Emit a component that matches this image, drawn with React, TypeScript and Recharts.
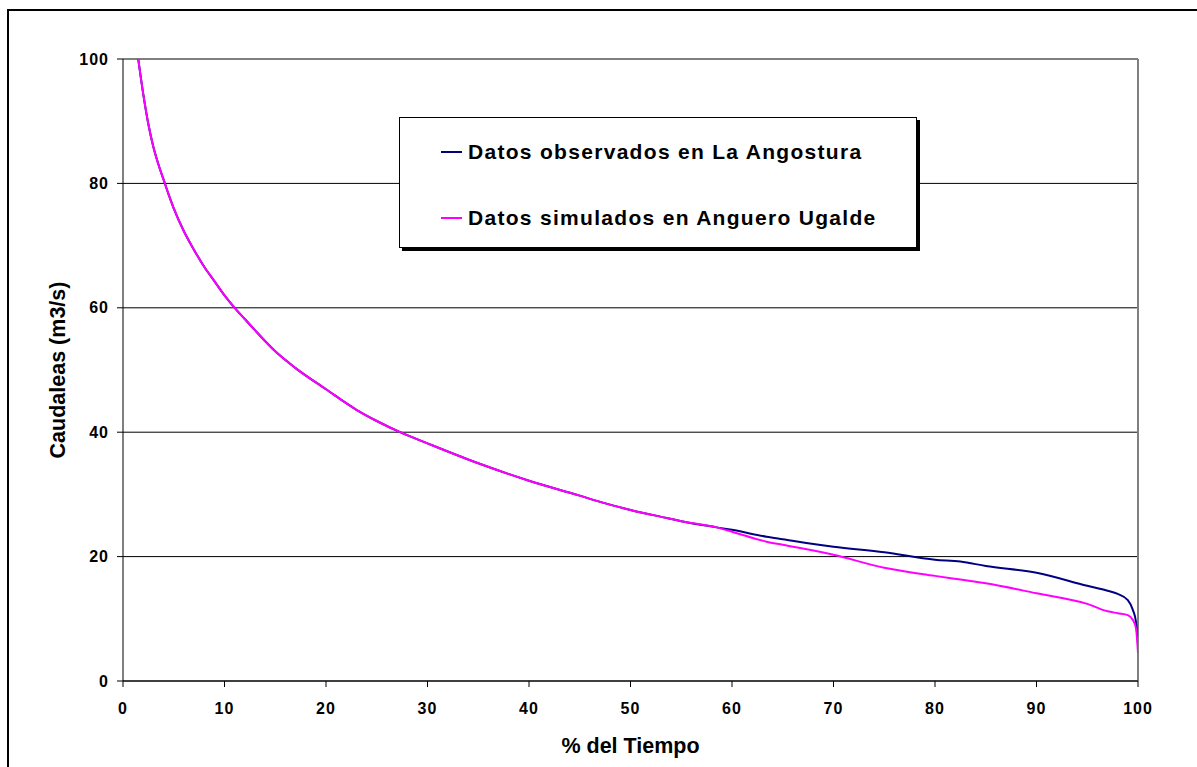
import {
  LineChart,
  Line,
  XAxis,
  YAxis,
  CartesianGrid,
  Legend,
  ReferenceLine,
  Label,
} from "recharts";

// % del tiempo (x)
const pct = [
  1.5, 2, 2.5, 3, 3.5, 4, 4.5, 5, 6, 7, 8, 9, 10, 11, 12, 13, 15, 17, 20, 23,
  25, 27.3, 30, 35, 40, 45, 47, 50, 53.6, 55, 58.5, 60, 63.4, 65, 70, 75, 80,
  82.5, 85, 90, 95, 97, 98, 99, 99.5, 99.8, 100,
];

const observados = [
  100, 94.3, 89.5, 85.8, 83, 80.6, 78.2, 76, 72.3, 69.3, 66.6, 64.3, 62, 60,
  58.2, 56.4, 53, 50.3, 46.9, 43.6, 41.8, 40, 38.2, 35, 32.2, 29.8, 28.8, 27.5,
  26.2, 25.7, 24.7, 24.3, 23.2, 22.8, 21.6, 20.7, 19.5, 19.2, 18.5, 17.4, 15.3,
  14.5, 14.0, 13.0, 11.4, 9.5, 6,
];

const simulados = [
  100, 94.3, 89.5, 85.8, 83, 80.6, 78.2, 76, 72.3, 69.3, 66.6, 64.3, 62, 60,
  58.2, 56.4, 53, 50.3, 46.9, 43.6, 41.8, 40, 38.2, 35, 32.2, 29.8, 28.8, 27.5,
  26.2, 25.7, 24.7, 24.0, 22.4, 21.9, 20.3, 18.2, 16.9, 16.3, 15.7, 14.1, 12.4,
  11.2, 10.9, 10.6, 9.8, 8.5, 4.5,
];

const xTicks = [0, 10, 20, 30, 40, 50, 60, 70, 80, 90, 100];
const yTicks = [0, 20, 40, 60, 80, 100];

const data = pct.map((p, i) => ({
  pct: p,
  observados: observados[i],
  simulados: simulados[i],
}));

const font = "'Liberation Sans', Arial, sans-serif";
const tickStyle = { fill: "#000", fontSize: 16, fontWeight: "bold", letterSpacing: 1, fontFamily: font };

const renderLegend = ({ payload }: any) => (
  <div
    style={{
      width: 516,
      height: 129,
      border: "1px solid #000",
      background: "#fff",
      boxShadow: "3px 3px 0 #000",
      position: "relative",
      fontFamily: font,
      fontWeight: "bold",
      fontSize: 21,
      letterSpacing: 1.3,
      color: "#000",
    }}
  >
    {(payload || []).map((item: any, i: number) => (
      <div
        key={i}
        style={{
          position: "absolute",
          left: 41,
          top: (i === 0 ? 34 : 100) - 13,
          height: 26,
          display: "flex",
          alignItems: "center",
          whiteSpace: "nowrap",
        }}
      >
        <span style={{ display: "inline-block", width: 21, height: 2, background: item.color, marginRight: 6 }} />
        <span>{item.value}</span>
      </div>
    ))}
  </div>
);

export default function App() {
  return (
    <div style={{ position: "relative", width: 1197, height: 767, overflow: "hidden", background: "#fff" }}>
      <style>{`body{margin:0}`}</style>
      <div
        style={{
          position: "absolute",
          left: 7,
          top: 9,
          width: 1300,
          height: 900,
          border: "2px solid #000",
        }}
      />
      <div style={{ position: "absolute", left: 8, top: 8 }}>
        <LineChart
          width={1181}
          height={751}
          data={data}
          margin={{ top: 51, right: 51, left: 35, bottom: 0 }}
        >
          <CartesianGrid vertical={false} stroke="#000" />
          <XAxis
            dataKey="pct"
            type="number"
            domain={[0, 100]}
            ticks={xTicks}
            tickSize={6}
            tickMargin={16}
            height={78}
            stroke="#000"
            tick={tickStyle}
            allowDataOverflow
          >
            <Label
              value="% del Tiempo"
              position="insideBottom"
              offset={6}
              style={{ fill: "#000", fontSize: 21.5, fontWeight: "bold", fontFamily: font }}
            />
          </XAxis>
          <YAxis
            type="number"
            domain={[0, 100]}
            ticks={yTicks}
            tickSize={6}
            tickMargin={8}
            width={80}
            stroke="#000"
            tick={tickStyle}
            allowDataOverflow
          >
            <Label
              value="Caudaleas (m3/s)"
              angle={-90}
              position="insideLeft"
              offset={14}
              style={{ fill: "#000", fontSize: 21.5, fontWeight: "bold", fontFamily: font, textAnchor: "middle" }}
            />
          </YAxis>
          <ReferenceLine x={100} stroke="#808080" strokeWidth={2} />
          <Legend
            layout="vertical"
            align="center"
            verticalAlign="middle"
            content={renderLegend}
            wrapperStyle={{ left: 391, top: 109, width: 518, height: 131 }}
          />
          <Line
            type="monotone"
            dataKey="observados"
            name="Datos observados en La Angostura"
            stroke="#000080"
            strokeWidth={2}
            dot={false}
            isAnimationActive={false}
          />
          <Line
            type="monotone"
            dataKey="simulados"
            name="Datos simulados en Anguero Ugalde"
            stroke="#FF00FF"
            strokeWidth={2}
            dot={false}
            isAnimationActive={false}
          />
        </LineChart>
      </div>
    </div>
  );
}
